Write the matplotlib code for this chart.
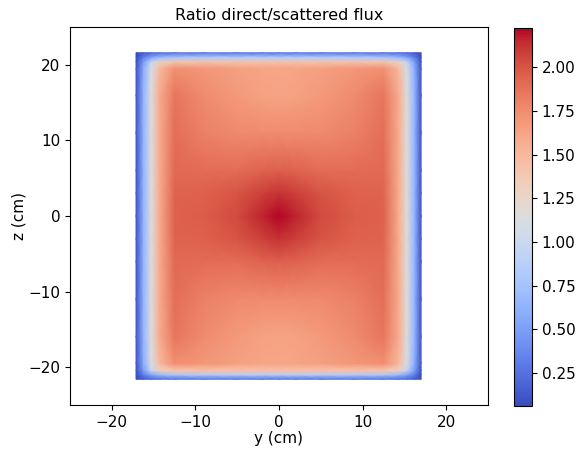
import numpy as np
import matplotlib
matplotlib.use("Agg")
import matplotlib.pyplot as plt

# grid node coordinates (cm)
y_nodes = [-17.1, -16.2, -15.3, -14.3, -12.5, -9, -5, -2, 0, 2, 5, 9, 12.5, 14.3, 15.3, 16.2, 17.0]
z_nodes = [-21.6, -21.0, -20.4, -19.5, -16, -11, -6, -3, 0, 3, 6, 11, 16, 19.5, 20.4, 21.0, 21.6]

# ratio direct/scattered flux, rows follow z_nodes (bottom to top), columns follow y_nodes
ratio = [
    [0.063, 0.14, 0.20, 0.24, 0.26, 0.28, 0.28, 0.28, 0.28, 0.28, 0.28, 0.28, 0.26, 0.24, 0.20, 0.14, 0.063],
    [0.07, 0.32, 0.52, 0.68, 0.78, 0.82, 0.84, 0.84, 0.84, 0.84, 0.84, 0.82, 0.78, 0.68, 0.52, 0.32, 0.07],
    [0.08, 0.50, 0.95, 1.30, 1.42, 1.44, 1.44, 1.44, 1.44, 1.44, 1.44, 1.44, 1.42, 1.30, 0.95, 0.50, 0.08],
    [0.10, 0.60, 1.10, 1.50, 1.74, 1.70, 1.65, 1.62, 1.62, 1.62, 1.65, 1.70, 1.74, 1.50, 1.10, 0.60, 0.10],
    [0.10, 0.65, 1.15, 1.58, 1.86, 1.76, 1.68, 1.64, 1.63, 1.64, 1.68, 1.76, 1.86, 1.58, 1.15, 0.65, 0.10],
    [0.10, 0.65, 1.15, 1.58, 1.89, 1.81, 1.77, 1.76, 1.76, 1.76, 1.77, 1.81, 1.89, 1.58, 1.15, 0.65, 0.10],
    [0.10, 0.65, 1.15, 1.58, 1.92, 1.90, 1.90, 1.94, 1.96, 1.94, 1.90, 1.90, 1.92, 1.58, 1.15, 0.65, 0.10],
    [0.10, 0.65, 1.15, 1.58, 1.94, 1.95, 2.00, 2.08, 2.12, 2.08, 2.00, 1.95, 1.94, 1.58, 1.15, 0.65, 0.10],
    [0.10, 0.65, 1.15, 1.58, 1.95, 1.97, 2.04, 2.16, 2.227, 2.16, 2.04, 1.97, 1.95, 1.58, 1.15, 0.65, 0.10],
    [0.10, 0.65, 1.15, 1.58, 1.94, 1.95, 2.00, 2.08, 2.12, 2.08, 2.00, 1.95, 1.94, 1.58, 1.15, 0.65, 0.10],
    [0.10, 0.65, 1.15, 1.58, 1.92, 1.90, 1.90, 1.94, 1.96, 1.94, 1.90, 1.90, 1.92, 1.58, 1.15, 0.65, 0.10],
    [0.10, 0.65, 1.15, 1.58, 1.89, 1.81, 1.77, 1.76, 1.76, 1.76, 1.77, 1.81, 1.89, 1.58, 1.15, 0.65, 0.10],
    [0.10, 0.65, 1.15, 1.58, 1.86, 1.76, 1.68, 1.64, 1.63, 1.64, 1.68, 1.76, 1.86, 1.58, 1.15, 0.65, 0.10],
    [0.10, 0.60, 1.10, 1.50, 1.74, 1.70, 1.65, 1.62, 1.62, 1.62, 1.65, 1.70, 1.74, 1.50, 1.10, 0.60, 0.10],
    [0.08, 0.50, 0.95, 1.30, 1.42, 1.44, 1.44, 1.44, 1.44, 1.44, 1.44, 1.44, 1.42, 1.30, 0.95, 0.50, 0.08],
    [0.07, 0.32, 0.52, 0.68, 0.78, 0.82, 0.84, 0.84, 0.84, 0.84, 0.84, 0.82, 0.78, 0.68, 0.52, 0.32, 0.07],
    [0.063, 0.14, 0.20, 0.24, 0.26, 0.28, 0.28, 0.28, 0.28, 0.28, 0.28, 0.28, 0.26, 0.24, 0.20, 0.14, 0.063],
]

cbar_ticks = [0.25, 0.50, 0.75, 1.00, 1.25, 1.50, 1.75, 2.00]
axis_ticks = [-20, -10, 0, 10, 20]

fig = plt.figure(figsize=(5.77, 4.49), dpi=100)
ax = fig.add_axes([70 / 577, (449 - 405) / 449, 418 / 577, 378 / 449])
Y, Z = np.meshgrid(np.array(y_nodes), np.array(z_nodes))
C = np.array(ratio)
mesh = ax.pcolormesh(Y, Z, C, shading="gouraud", cmap="coolwarm",
                     vmin=C.min(), vmax=C.max())
ax.set_xlim(-25, 25)
ax.set_ylim(-25, 25)
ax.set_xticks(axis_ticks)
ax.set_yticks(axis_ticks)
ax.tick_params(labelsize=11)
ax.set_xlabel("y (cm)", fontsize=11, labelpad=1)
ax.set_ylabel("z (cm)", fontsize=11, labelpad=1)
ax.set_title("Ratio direct/scattered flux", fontsize=11.5, pad=5)

cax = fig.add_axes([514 / 577, (449 - 405.7) / 449, 18 / 577, 378 / 449])
cb = fig.colorbar(mesh, cax=cax, ticks=cbar_ticks)
cb.ax.tick_params(labelsize=11)
cb.ax.yaxis.set_major_formatter(matplotlib.ticker.FormatStrFormatter("%.2f"))

fig.savefig("out.png", dpi=100)
